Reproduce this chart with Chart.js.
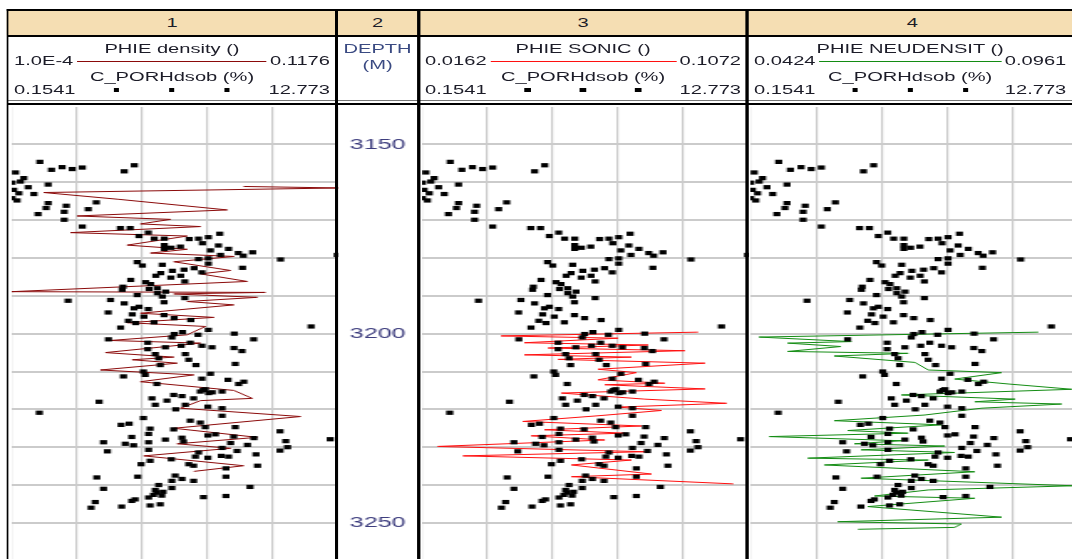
<!DOCTYPE html>
<html>
<head>
<meta charset="utf-8">
<script src="https://cdn.jsdelivr.net/npm/chart.js@4.4.0/dist/chart.umd.min.js"></script>
<style>
  html, body { margin: 0; padding: 0; background: #fff; overflow: hidden; width: 1072px; height: 559px; }
  /* the log was drawn narrow and stretched sideways, so lay it out at 640px and scale it */
  #page { position: absolute; left: 0; top: 0; width: 640px; height: 559px; transform: scaleX(1.675); transform-origin: 0 0;
          font-family: "Liberation Sans", Arial, sans-serif; font-size: 12px; color: #1c1c28; overflow: hidden; }
  .abs { position: absolute; }
  .vb { position: absolute; top: 9px; height: 550px; width: 1.8px; background: #000; }
  .hb { position: absolute; left: 3.6px; width: 640px; background: #000; }
  .tnum { position: absolute; top: 11px; height: 24px; line-height: 24px; text-align: center; }
  .hcell { position: absolute; top: 37px; height: 62px; }
  .row { position: absolute; left: 0; right: 0; height: 14px; line-height: 14px; white-space: nowrap; }
  .c { text-align: center; }
  .flex { display: flex; align-items: center; }
  .rule { flex: 1; height: 0; margin: 0 2px; border-top: 1px solid; }
  .sq { position: absolute; top: 5px; width: 3.6px; height: 4px; background: #000; }
  canvas { position: absolute; top: 107px; }
</style>
</head>
<body>
<div id="page"></div>
<script>
// ---- header text ----
const trackNums = ["1", "2", "3", "4"];
const curveNames = ["PHIE density ()", "PHIE SONIC ()", "PHIE NEUDENSIT ()"];
const curveMinText = ["1.0E-4", "0.0162", "0.0424"];
const curveMin = [1.0e-4, 0.0162, 0.0424];
const curveMax = [0.1176, 0.1072, 0.0961];
const porName = "C_PORHdsob (%)";
const porMin = 0.1541;
const porMax = 12.773;
const depthName = ["DEPTH", "(M)"];
const depthMarks = [3150, 3200, 3250];
const depthTop = 3140.1;
const depthBottom = 3259.55;

// ---- C_PORHdsob samples (same set in tracks 1, 3, 4) ----
const porDepth = [
  3154.6, 3155.5, 3156.0, 3156.1, 3156.5, 3156.7, 3157.1, 3157.4, 3158.9, 3159.8,
  3160.1, 3160.6, 3161.3, 3162.0, 3162.9, 3163.1, 3164.2, 3164.8, 3165.3, 3165.5,
  3166.2, 3166.8, 3167.1, 3167.8, 3168.4, 3169.9, 3171.7, 3172.1, 3172.1, 3173.3,
  3173.6, 3174.2, 3174.5, 3174.9, 3174.9, 3174.9, 3175.0, 3176.1, 3176.6, 3176.7,
  3177.0, 3177.3, 3177.6, 3177.6, 3178.0, 3178.5, 3178.7, 3179.2, 3179.2, 3179.4,
  3180.1, 3180.3, 3180.4, 3181.1, 3181.5, 3181.8, 3182.0, 3182.6, 3182.7, 3183.1,
  3183.4, 3183.8, 3184.0, 3184.7, 3184.7, 3185.2, 3185.8, 3186.2, 3186.4, 3186.9,
  3187.6, 3188.0, 3188.2, 3188.4, 3188.9, 3189.3, 3189.8, 3190.2, 3190.6, 3191.1,
  3191.3, 3191.7, 3192.0, 3192.9, 3193.3, 3193.5, 3194.4, 3194.9, 3195.1, 3195.5,
  3195.9, 3196.4, 3196.6, 3197.0, 3197.2, 3198.1, 3198.4, 3199.0, 3199.6, 3200.0,
  3200.1, 3200.3, 3201.0, 3201.5, 3201.5, 3202.4, 3202.4, 3203.2, 3203.2, 3203.6,
  3203.6, 3203.8, 3204.1, 3204.6, 3205.4, 3205.4, 3206.5, 3206.9, 3208.0, 3208.3,
  3208.3, 3210.0, 3210.6, 3210.9, 3211.3, 3211.9, 3212.2, 3212.7, 3213.3, 3213.3,
  3214.7, 3214.9, 3215.3, 3215.3, 3215.5, 3215.7, 3216.2, 3216.5, 3217.1, 3217.1,
  3217.7, 3218.0, 3218.8, 3218.8, 3219.3, 3219.7, 3220.0, 3220.9, 3221.7, 3222.3,
  3223.0, 3223.5, 3223.8, 3224.1, 3224.7, 3224.7, 3225.1, 3225.3, 3225.8, 3226.5,
  3226.6, 3226.9, 3227.2, 3227.3, 3227.5, 3227.6, 3227.9, 3228.0, 3228.4, 3228.5,
  3228.7, 3228.7, 3228.9, 3229.1, 3229.4, 3229.5, 3230.0, 3230.2, 3230.7, 3230.9,
  3231.0, 3231.1, 3231.4, 3231.9, 3232.3, 3232.5, 3232.5, 3232.8, 3233.2, 3233.6,
  3234.5, 3234.5, 3234.9, 3234.9, 3235.6, 3237.5, 3237.8, 3237.8, 3238.0, 3238.4,
  3238.9, 3238.9, 3240.0, 3240.5, 3240.8, 3241.0, 3241.3, 3241.8, 3242.0, 3242.6,
  3242.8, 3242.9, 3243.2, 3243.3, 3243.8, 3244.2, 3244.5, 3245.1, 3245.4, 3245.7,
  3246.0
];
const porPct = [
  1.24, 4.89, 2.10, 2.88, 2.49, 1.69, 4.50, 0.30, 0.62, 0.49,
  0.17, 1.56, 0.79, 0.23, 0.43, 1.01, 0.17, 0.36, 3.42, 1.56,
  2.26, 1.48, 3.11, 2.18, 1.17, 2.18, 2.88, 4.35, 4.73, 5.43,
  8.19, 5.07, 7.75, 5.66, 6.05, 7.37, 7.01, 7.52, 6.05, 8.14,
  6.67, 6.31, 6.05, 8.53, 7.83, 9.46, 8.91, 8.22, 12.73, 9.10,
  7.75, 7.37, 10.54, 5.00, 7.75, 5.97, 5.20, 9.07, 7.20, 6.81,
  6.36, 7.50, 5.91, 5.72, 6.68, 6.30, 4.75, 6.84, 5.33, 5.52,
  4.45, 5.78, 5.46, 4.42, 6.10, 5.78, 5.00, 5.97, 6.84, 3.97,
  2.33, 6.04, 4.50, 5.07, 4.88, 5.43, 3.88, 4.81, 6.04, 5.26,
  6.43, 7.07, 4.66, 5.65, 4.94, 11.72, 4.36, 7.75, 6.75, 8.75,
  6.43, 7.35, 6.34, 9.50, 3.89, 7.05, 5.41, 6.70, 7.50, 6.09,
  7.89, 8.74, 5.41, 9.05, 5.70, 6.86, 5.83, 6.99, 8.79, 5.89,
  7.27, 5.24, 7.83, 5.31, 4.47, 7.50, 8.51, 9.12, 8.92, 5.76,
  7.63, 7.55, 7.44, 8.28, 7.90, 7.76, 6.41, 6.73, 5.57, 7.18,
  6.15, 3.53, 5.70, 6.86, 7.73, 8.28, 6.49, 1.22, 8.28, 5.24,
  7.05, 7.44, 4.69, 4.38, 7.63, 8.79, 5.50, 6.41, 10.52, 5.44,
  8.02, 7.73, 8.73, 4.79, 6.73, 9.51, 12.46, 6.09, 10.74, 6.79,
  3.70, 5.44, 8.61, 4.54, 9.26, 4.86, 10.81, 8.28, 5.44, 10.52,
  8.86, 3.85, 7.37, 9.59, 8.25, 7.25, 8.53, 7.73, 6.32, 5.50,
  5.15, 6.99, 7.18, 9.65, 8.43, 6.47, 5.02, 8.43, 3.44, 6.73,
  6.34, 7.18, 5.83, 9.36, 6.34, 3.70, 5.70, 6.00, 5.75, 5.63,
  5.95, 8.43, 7.56, 5.44, 4.92, 4.79, 3.38, 5.89, 5.50, 4.40,
  3.22
];

// ---- PHIE density (track 1) ----
const densDepth = [
  3161.1, 3161.5, 3162.7, 3164.5, 3167.3, 3168.9, 3169.8, 3171.0, 3171.7, 3173.3,
  3174.2, 3176.6, 3177.7, 3178.7, 3179.6, 3181.0, 3183.3, 3184.2, 3186.2, 3188.9,
  3189.1, 3189.5, 3190.4, 3191.5, 3192.4, 3194.6, 3195.7, 3197.1, 3198.1, 3200.3,
  3201.8, 3202.5, 3205.0, 3206.2, 3206.9, 3207.8, 3209.6, 3210.9, 3212.7, 3215.0,
  3217.1, 3217.7, 3219.7, 3221.9, 3225.0, 3227.4, 3229.1, 3230.3, 3232.3, 3234.9,
  3236.4
];
const densPhie = [
  0.0835, 0.1176, 0.0116, 0.0386, 0.0776, 0.0236, 0.0572, 0.0464, 0.0680, 0.0212,
  0.0632, 0.0416, 0.0632, 0.0500, 0.0800, 0.0584, 0.0788, 0.0680, 0.0848, 0.0001,
  0.0913, 0.0584, 0.0884, 0.0632, 0.0800, 0.0464, 0.0728, 0.0416, 0.0698, 0.0632,
  0.0356, 0.0680, 0.0338, 0.0584, 0.0434, 0.0596, 0.0320, 0.0656, 0.0464, 0.0800,
  0.0866, 0.0680, 0.0608, 0.1040, 0.0584, 0.0884, 0.0596, 0.0788, 0.0476, 0.0835,
  0.0656
];

// ---- PHIE SONIC (track 3) ----
const sonicDepth = [
  3199.6, 3200.6, 3201.2, 3202.4, 3203.0, 3203.8, 3204.5, 3205.6, 3206.2, 3206.8,
  3207.8, 3209.4, 3210.3, 3212.2, 3213.1, 3213.5, 3214.6, 3215.7, 3217.3, 3218.4,
  3219.4, 3220.3, 3221.7, 3223.2, 3224.4, 3225.4, 3226.3, 3227.0, 3228.1, 3229.8,
  3231.2, 3232.3, 3233.4, 3234.7, 3237.1, 3237.8, 3239.7
];
const sonicPhie = [
  0.0931, 0.0382, 0.0708, 0.0447, 0.0792, 0.0513, 0.0894, 0.0447, 0.0745, 0.0541,
  0.0950, 0.0652, 0.0759, 0.0652, 0.0838, 0.0671, 0.0950, 0.0550, 0.0782, 0.1010,
  0.0708, 0.0829, 0.0652, 0.0443, 0.0773, 0.0503, 0.0726, 0.0466, 0.0671, 0.0206,
  0.0782, 0.0276, 0.0745, 0.0578, 0.0801, 0.0578, 0.1029
];

// ---- PHIE NEUDENSIT (track 4) ----
const neuDepth = [
  3199.6, 3200.9, 3202.1, 3202.5, 3203.4, 3204.7, 3205.2, 3205.9, 3207.6, 3209.6,
  3210.3, 3212.0, 3213.3, 3214.7, 3216.2, 3217.3, 3218.0, 3218.6, 3219.7, 3221.5,
  3223.0, 3224.1, 3225.6, 3226.3, 3227.2, 3228.3, 3229.1, 3229.7, 3230.7, 3231.4,
  3232.9, 3233.4, 3234.7, 3236.5, 3238.2, 3240.2, 3241.3, 3242.9, 3243.5, 3245.7,
  3248.5, 3249.7, 3250.3, 3251.2, 3251.7
];
const neuPhie = [
  0.0895, 0.0438, 0.0589, 0.0485, 0.0572, 0.0485, 0.0682, 0.0561, 0.0693, 0.0715,
  0.0835, 0.0758, 0.0846, 0.0950, 0.0671, 0.0857, 0.0791, 0.0933, 0.0802, 0.0709,
  0.0561, 0.0736, 0.0583, 0.0682, 0.0455, 0.0671, 0.0594, 0.0742, 0.0605, 0.0758,
  0.0518, 0.0715, 0.0545, 0.0791, 0.0605, 0.0952, 0.0715, 0.0627, 0.0791, 0.0616,
  0.0835, 0.0567, 0.0769, 0.0758, 0.0600
];

// ---- layout (logical px, before the sideways stretch) ----
const page = document.getElementById("page");
function el(cls, css, text) {
  const d = document.createElement("div");
  d.className = cls;
  Object.assign(d.style, css);
  if (text !== undefined) d.textContent = text;
  return d;
}

// tan title row
page.appendChild(el("abs", { left: "3.6px", top: "11px", width: "640px", height: "24px", background: "#f5deb3" }));
const colSpans = [[5.4, 194.6], [201.8, 47.2], [250.8, 194.6], [447.2, 195]];
trackNums.forEach((t, i) => {
  page.appendChild(el("tnum", { left: colSpans[i][0] + "px", width: colSpans[i][1] + "px" }, t));
});

// curve headers
const hdrSpans = [[5.4, 194.6], [250.8, 194.6], [447.2, 192.4]];
const curveColors = ["#8b0a0a", "#ff1010", "#138c13"];
curveNames.forEach((name, i) => {
  const cell = el("hcell", { left: hdrSpans[i][0] + "px", width: hdrSpans[i][1] + "px" });
  cell.appendChild(el("row c", { top: "5px" }, name));
  const r2 = el("row flex", { top: "17px", padding: "0 3px" });
  r2.appendChild(el("", {}, curveMinText[i]));
  r2.appendChild(el("rule", { borderTopColor: curveColors[i] }));
  r2.appendChild(el("", {}, String(curveMax[i])));
  cell.appendChild(r2);
  cell.appendChild(el("row c", { top: "33px" }, porName));
  const r4 = el("row flex", { top: "46px", padding: "0 3px", justifyContent: "space-between" });
  r4.appendChild(el("", {}, String(porMin)));
  r4.appendChild(el("", {}, String(porMax)));
  cell.appendChild(r4);
  const mid = hdrSpans[i][1] / 2;
  [-33, 0, 33].forEach(o => r4.appendChild(el("sq", { left: (mid + o - 1.8) + "px" })));
  page.appendChild(cell);
});
const dcell = el("hcell", { left: "201.8px", width: "47.2px", color: "#3a4a82" });
dcell.appendChild(el("row c", { top: "5px" }, depthName[0]));
dcell.appendChild(el("row c", { top: "21px" }, depthName[1]));
page.appendChild(dcell);

// canvases
const canvasSpans = [[7, 195], [202, 47], [251.5, 195], [447.5, 196]];
const canvases = canvasSpans.map(([l, w]) => {
  const c = document.createElement("canvas");
  c.width = w; c.height = 452;
  c.style.left = l + "px";
  page.appendChild(c);
  return c;
});

// rules drawn over the plots
page.appendChild(el("hb", { top: "9px", height: "2px" }));
page.appendChild(el("hb", { top: "35px", height: "2px" }));
page.appendChild(el("hb", { top: "100px", height: "1px", background: "#777" }));
page.appendChild(el("hb", { top: "103px", height: "2px" }));
[3.6, 200, 249, 445.4].forEach(x => page.appendChild(el("vb", { left: x + "px" })));

// ---- charts ----
const gridColor = "#cbcbcb";
const yScale = {
  type: "linear", reverse: true, min: depthTop, max: depthBottom,
  border: { display: false },
  grid: { color: gridColor, lineWidth: 2, drawTicks: false },
  ticks: { display: false, stepSize: 10, includeBounds: false }
};

function pairs(xs, ys) {
  return ys.map((y, i) => ({ x: xs[i], y: y }));
}

function trackChart(canvas, idx, depth, phie) {
  return new Chart(canvas.getContext("2d"), {
    type: "scatter",
    data: {
      datasets: [
        {
          label: porName,
          data: pairs(porPct, porDepth),
          xAxisID: "xp",
          pointStyle: "rect",
          pointRadius: 3,
          pointBorderWidth: 0,
          backgroundColor: "#000",
          borderColor: "#000"
        },
        {
          label: curveNames[idx],
          data: pairs(phie, depth),
          xAxisID: "xc",
          showLine: true,
          borderColor: curveColors[idx],
          borderWidth: 1,
          pointRadius: 0,
          tension: 0
        }
      ]
    },
    options: {
      responsive: false,
      animation: false,
      layout: { padding: 0, autoPadding: false },
      plugins: { legend: { display: false }, tooltip: { enabled: false } },
      scales: {
        xp: {
          type: "linear", position: "bottom", min: porMin, max: porMax,
          border: { display: false },
          grid: { color: gridColor, lineWidth: 1.2, drawTicks: false },
          ticks: { display: false, count: 6 }
        },
        xc: { type: "linear", position: "bottom", min: curveMin[idx], max: curveMax[idx], display: false },
        y: yScale
      }
    }
  });
}

trackChart(canvases[0], 0, densDepth, densPhie);
trackChart(canvases[2], 1, sonicDepth, sonicPhie);
trackChart(canvases[3], 2, neuDepth, neuPhie);

// depth track: labels placed by the depth scale
const depthLabels = {
  id: "depthLabels",
  afterDraw(chart) {
    const { ctx, chartArea, scales } = chart;
    ctx.save();
    ctx.font = '15px "Liberation Sans", Arial, sans-serif';
    ctx.fillStyle = "#3d3d7e";
    ctx.textAlign = "center";
    ctx.textBaseline = "middle";
    const cx = (chartArea.left + chartArea.right) / 2;
    depthMarks.forEach(d => ctx.fillText(String(d), cx, scales.y.getPixelForValue(d)));
    ctx.restore();
  }
};

new Chart(canvases[1].getContext("2d"), {
  type: "scatter",
  data: { datasets: [] },
  options: {
    responsive: false,
    animation: false,
    layout: { padding: 0, autoPadding: false },
    plugins: { legend: { display: false }, tooltip: { enabled: false } },
    scales: {
      x: { type: "linear", min: 0, max: 1, display: false },
      y: { type: "linear", reverse: true, min: depthTop, max: depthBottom, display: false }
    }
  },
  plugins: [depthLabels]
});
</script>
</body>
</html>
